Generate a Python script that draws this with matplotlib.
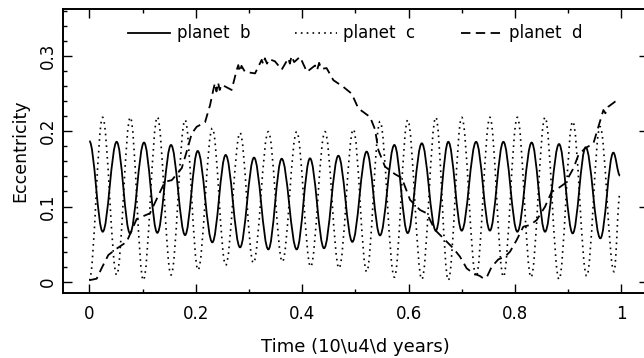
import numpy as np
import matplotlib
matplotlib.use("Agg")
import matplotlib.pyplot as plt
from matplotlib.path import Path
from matplotlib.patches import PathPatch
from matplotlib.lines import Line2D
from matplotlib.ticker import MultipleLocator

# planet b: turning points (max/min)
b_time = [0.0, 0.0252, 0.0514, 0.0765, 0.1028, 0.1278, 0.1536, 0.180, 0.2037, 0.2312,
          0.2563, 0.2833, 0.3096, 0.3365, 0.3616, 0.3898, 0.4148, 0.4412, 0.4681, 0.4944,
          0.5213, 0.5464, 0.5734, 0.5984, 0.625, 0.6513, 0.6748, 0.700, 0.727, 0.753,
          0.7783, 0.8046, 0.8315, 0.8566, 0.8829, 0.9086, 0.933, 0.9606, 0.985, 0.9975]
b_ecc = [0.187, 0.0665, 0.186, 0.0643, 0.185, 0.065, 0.1818, 0.062, 0.1738, 0.0524,
         0.1685, 0.0457, 0.165, 0.043, 0.1635, 0.043, 0.164, 0.0445, 0.1675, 0.053,
         0.173, 0.0616, 0.1818, 0.0647, 0.184, 0.0679, 0.186, 0.0679, 0.186, 0.068,
         0.186, 0.0665, 0.185, 0.0665, 0.183, 0.0643, 0.1787, 0.0577, 0.1716, 0.141]

# planet c: turning points
c_time = [0.0, 0.025, 0.0514, 0.077, 0.1015, 0.128, 0.1536, 0.180, 0.2044, 0.2312,
          0.2563, 0.2833, 0.3083, 0.3365, 0.3629, 0.3898, 0.416, 0.443, 0.4694, 0.4963,
          0.5213, 0.5464, 0.5734, 0.5984, 0.625, 0.6513, 0.6748, 0.700, 0.727, 0.753,
          0.7783, 0.8046, 0.8303, 0.8566, 0.8829, 0.9086, 0.9349, 0.960, 0.9863, 0.9975]
c_ecc = [0.002, 0.2186, 0.009, 0.2186, 0.002, 0.219, 0.009, 0.215, 0.0156, 0.204,
         0.022, 0.198, 0.025, 0.1995, 0.0266, 0.1995, 0.020, 0.1995, 0.018, 0.2026,
         0.0133, 0.213, 0.006, 0.215, 0.0032, 0.2186, 0.002, 0.2186, 0.0066, 0.2186,
         0.0066, 0.2186, 0.006, 0.2186, 0.0032, 0.213, 0.0075, 0.2062, 0.0133, 0.1175]

# planet d: sampled along the curve
d_time = [0.0, 0.0138, 0.023, 0.0357, 0.0514, 0.0702, 0.089, 0.114, 0.130, 0.1422,
          0.155, 0.1737, 0.183, 0.1925, 0.2018, 0.2175, 0.227, 0.233, 0.236, 0.239,
          0.242, 0.245, 0.2488, 0.2675, 0.277, 0.280, 0.283, 0.286, 0.2926, 0.3115,
          0.324, 0.327, 0.330, 0.334, 0.338, 0.349, 0.3616, 0.374, 0.377, 0.380,
          0.385, 0.396, 0.409, 0.4243, 0.428, 0.432, 0.436, 0.446, 0.4587, 0.4775,
          0.4932, 0.5056, 0.5277, 0.537, 0.5433, 0.5558, 0.5746, 0.5872, 0.603, 0.6216,
          0.6342, 0.6498, 0.6624, 0.6748, 0.6842, 0.6967, 0.7093, 0.7218, 0.7343, 0.7406,
          0.7469, 0.7563, 0.7688, 0.7814, 0.7908, 0.8033, 0.8158, 0.8284, 0.841, 0.8566,
          0.8691, 0.8785, 0.8942, 0.9099, 0.9193, 0.9318, 0.9475, 0.9569, 0.9663, 0.970,
          0.9757, 0.9882, 0.9975]
d_ecc = [0.002, 0.004, 0.0178, 0.0355, 0.044, 0.053, 0.0834, 0.091, 0.115, 0.133,
         0.135, 0.151, 0.173, 0.197, 0.206, 0.212, 0.235, 0.255, 0.264, 0.253,
         0.265, 0.255, 0.262, 0.255, 0.2815, 0.288, 0.279, 0.287, 0.279, 0.277,
         0.295, 0.289, 0.297, 0.290, 0.296, 0.293, 0.282, 0.297, 0.290, 0.300,
         0.292, 0.299, 0.279, 0.2875, 0.281, 0.291, 0.283, 0.284, 0.268, 0.259,
         0.250, 0.2305, 0.219, 0.2025, 0.175, 0.153, 0.143, 0.138, 0.1087, 0.0954,
         0.091, 0.0688, 0.060, 0.0511, 0.0444, 0.0333, 0.0178, 0.0111, 0.0076, 0.0044,
         0.0058, 0.0199, 0.0297, 0.0333, 0.040, 0.0555, 0.0732, 0.0754, 0.082, 0.0998,
         0.1197, 0.1228, 0.1308, 0.1507, 0.1684, 0.1773, 0.1839, 0.2061, 0.2283, 0.224,
         0.2328, 0.2394, 0.2416]

labels = ["planet  b", "planet  c", "planet  d"]


def smooth_path(ts, es, k=0.3642):
    # cubic segments with flat tangents at the turning points
    verts = [(ts[0], es[0])]
    codes = [Path.MOVETO]
    for i in range(1, len(ts)):
        dt = ts[i] - ts[i - 1]
        verts += [(ts[i - 1] + k * dt, es[i - 1]), (ts[i] - k * dt, es[i]), (ts[i], es[i])]
        codes += [Path.CURVE4] * 3
    return Path(verts, codes)


plt.rcParams["font.family"] = ["DejaVu Sans"]
fig = plt.figure(figsize=(6.44, 3.58), dpi=100)
ax = fig.add_axes([0.0974, 0.1824, 0.9087, 0.7916])

b_style = dict(color="black", lw=1.3)
c_style = dict(color="black", lw=1.2, ls=(0, (1, 2.5)))
d_style = dict(color="black", lw=1.3, ls=(0, (5.2, 3)))

ax.add_patch(PathPatch(smooth_path(b_time, b_ecc), fill=False, ec="black", lw=1.3))
ax.add_patch(PathPatch(smooth_path(c_time, c_ecc), fill=False, ec="black", lw=1.2,
                       ls=(0, (1, 2.5))))
ax.plot(d_time, d_ecc, **d_style)

ax.set_xlim(-0.05, 1.05)
ax.set_ylim(-0.0146, 0.3622)
ax.xaxis.set_major_locator(MultipleLocator(0.2))
ax.xaxis.set_minor_locator(MultipleLocator(0.1))
ax.yaxis.set_major_locator(MultipleLocator(0.1))
ax.yaxis.set_minor_locator(MultipleLocator(0.02))
ax.xaxis.set_major_formatter(plt.FuncFormatter(lambda v, p: f"{v:g}"))
ax.yaxis.set_major_formatter(plt.FuncFormatter(lambda v, p: f"{v:g}"))
ax.tick_params(which="both", direction="in", top=True, right=True, width=1.0, labelsize=12)
ax.tick_params(which="major", length=6.5)
ax.tick_params(which="minor", length=3.2)
ax.tick_params(axis="y", labelrotation=90, pad=4)
ax.tick_params(axis="x", pad=9)
for lab in ax.get_yticklabels():
    lab.set_va("center")
for s in ax.spines.values():
    s.set_linewidth(1.4)

ax.set_xlabel("Time (10\\u4\\d years)", fontsize=13, labelpad=10.5)
ax.set_ylabel("Eccentricity", fontsize=12.5, labelpad=7)

handles = [Line2D([], [], **b_style), Line2D([], [], **c_style), Line2D([], [], **d_style)]
ax.legend(handles, labels, loc="center", bbox_to_anchor=(0.5, 0.915), ncol=3, frameon=False,
          fontsize=12, handlelength=2.5, handletextpad=0.4, columnspacing=2.7)

fig.savefig("out.png", dpi=100)
